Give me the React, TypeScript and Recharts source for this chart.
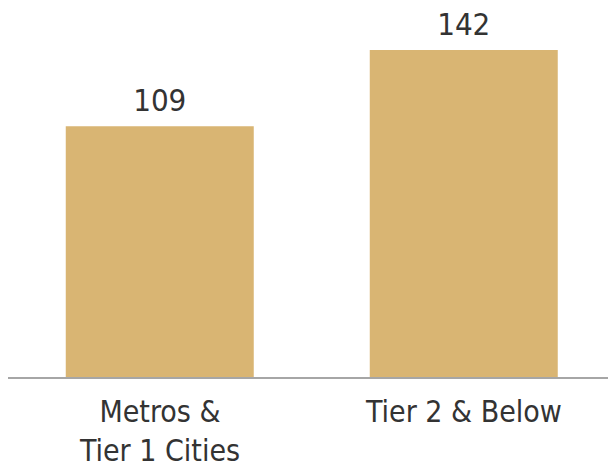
import { BarChart, Bar, XAxis, YAxis, LabelList } from "recharts";

const categories = ["Metros &\nTier 1 Cities", "Tier 2 & Below"];
const values = [109, 142];

const data = categories.map((name, i) => ({ name, value: values[i] }));

const FONT = "'DejaVu Sans Condensed', 'DejaVu Sans', sans-serif";

function CategoryTick(props: any) {
  const { x, y, payload } = props;
  const lines = String(payload.value).split("\n");
  return (
    <text x={x} y={y} textAnchor="middle" fill="#333333" fontSize={30} fontFamily={FONT}>
      {lines.map((line, i) => (
        <tspan key={i} x={x} dy={i === 0 ? 36 : 39}>
          {line}
        </tspan>
      ))}
    </text>
  );
}

export default function App() {
  return (
    <div style={{ position: "absolute", left: 0, top: 0, width: 608, height: 469 }}>
      <BarChart
        width={608}
        height={469}
        data={data}
        margin={{ top: 50, right: -8, bottom: 0, left: 8 }}
        barCategoryGap="19%"
      >
        <XAxis
          dataKey="name"
          tickLine={false}
          axisLine={{ stroke: "#a6a6a6", strokeWidth: 2 }}
          tick={<CategoryTick />}
          interval={0}
          height={91}
        />
        <YAxis hide domain={[0, 142]} />
        <Bar dataKey="value" fill="#D9B573" isAnimationActive={false}>
          <LabelList
            dataKey="value"
            position="top"
            offset={15}
            fill="#333333"
            fontSize={31}
            fontFamily={FONT}
          />
        </Bar>
      </BarChart>
    </div>
  );
}
